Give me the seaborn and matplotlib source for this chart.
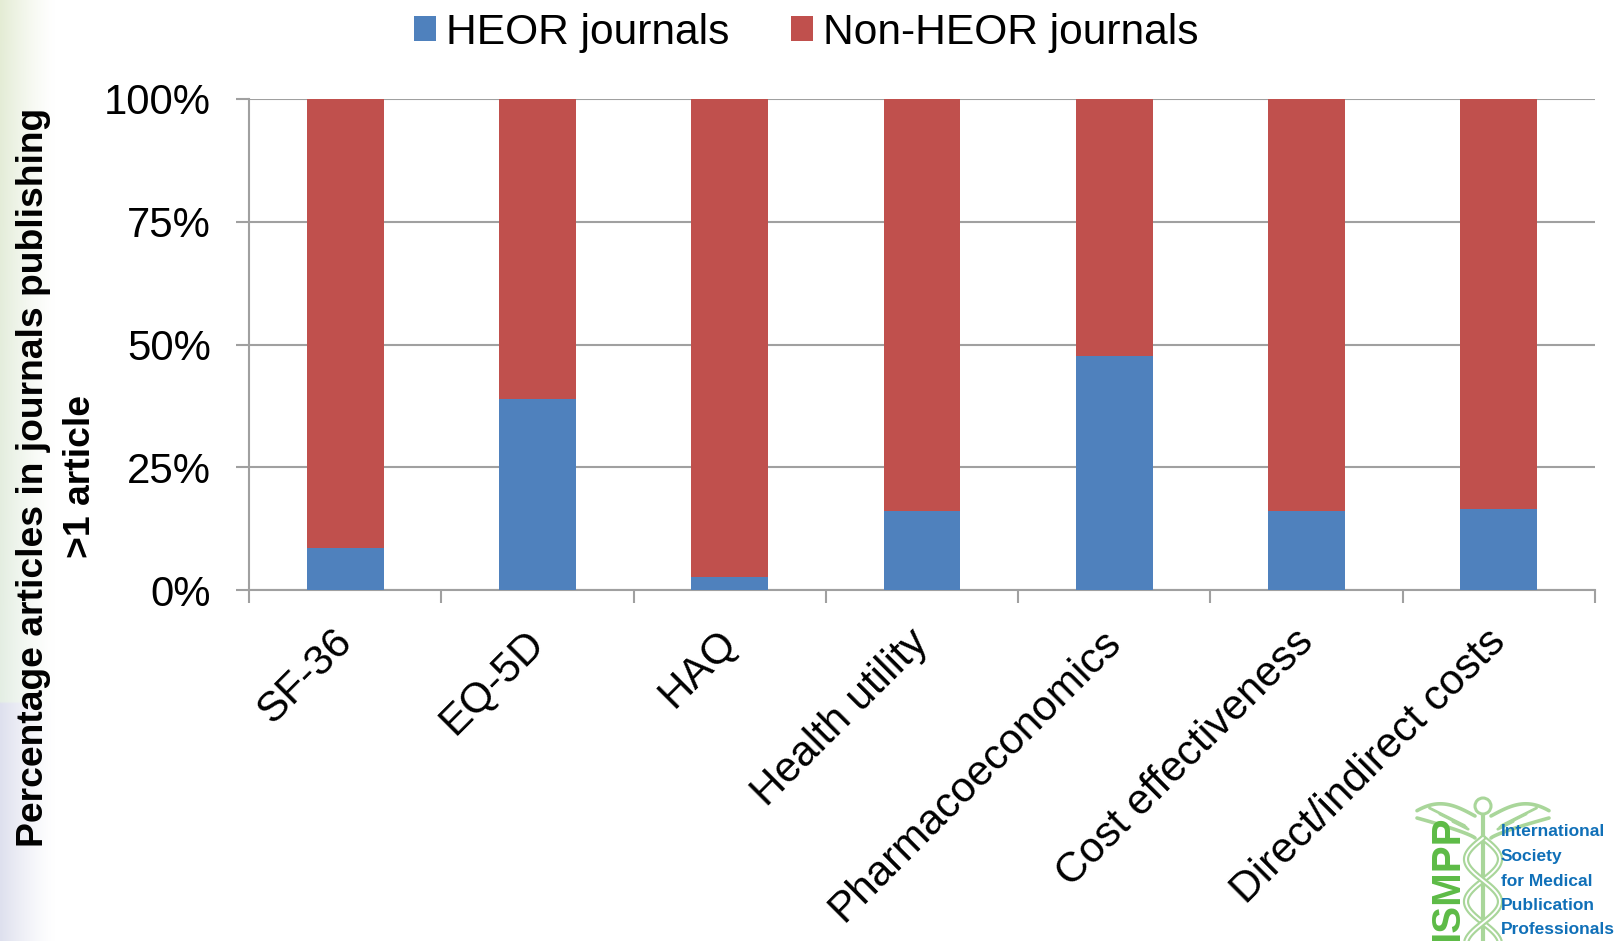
import numpy as np
import pandas as pd
import matplotlib
matplotlib.use('Agg')
import matplotlib.pyplot as plt
import seaborn as sns
from matplotlib.patches import Circle
from matplotlib.ticker import FixedLocator
from matplotlib.transforms import ScaledTranslation

categories = ['SF-36', 'EQ-5D', 'HAQ', 'Health utility', 'Pharmacoeconomics',
              'Cost effectiveness', 'Direct/indirect costs']
heor = [8.5, 39.0, 2.7, 16.0, 47.7, 16.0, 16.5]
non_heor = [91.5, 61.0, 97.3, 84.0, 52.3, 84.0, 83.5]
y_ticks = [0, 25, 50, 75, 100]
y_tick_labels = ['0%', '25%', '50%', '75%', '100%']
logo_lines = ['International', 'Society', 'for Medical', 'Publication', 'Professionals']

W, H = 1614, 941
BLUE = '#4F81BD'
RED = '#C0504D'
GREY = '#A0A0A0'

sns.set_style('white')
plt.rcParams['font.family'] = ['Liberation Sans', 'DejaVu Sans']

df = pd.DataFrame({'category': categories, 'heor': heor, 'non_heor': non_heor})

fig = plt.figure(figsize=(W / 100, H / 100), dpi=100, facecolor='white')

# slide background, soft strip down the left edge
bg = fig.add_axes([0, 0, 1, 1], zorder=0)
rows = np.linspace(0, 1, 300)[:, None]
cols = np.linspace(0, 1, 70)[None, :]
fade = np.clip(1 - cols, 0, 1) ** 1.3
top = np.array([228, 236, 212]) / 255
mid = np.array([228, 238, 228]) / 255
low = np.array([222, 224, 238]) / 255
split = 703 / H
base = np.where(rows < split, 1, 0)[:, :, None] * (top + (mid - top) * (rows / split)[:, :, None]) \
    + np.where(rows < split, 0, 1)[:, :, None] * low
strip = 1 - (1 - base) * fade[:, :, None]
bg.imshow(strip, extent=[0, 55, H, 0], aspect='auto')
bg.set_xlim(0, W)
bg.set_ylim(H, 0)
bg.axis('off')

# main chart
ax = fig.add_axes([249 / W, 1 - 590 / H, (1595 - 249) / W, (590 - 99) / H], zorder=2)
ax.patch.set_alpha(0)
sns.barplot(data=df, x='category', y='heor', color=BLUE, saturation=1, width=0.4,
            ax=ax, label='HEOR journals', zorder=3, linewidth=0)
sns.barplot(data=df, x='category', y='non_heor', bottom=df['heor'], color=RED, saturation=1,
            width=0.4, ax=ax, label='Non-HEOR journals', zorder=3, linewidth=0)
handles, labels = ax.get_legend_handles_labels()
ax.get_legend().remove()

ax.set_xlim(-0.5, 6.5)
ax.set_ylim(0, 100)
ax.set_yticks(y_ticks)
ax.set_yticklabels(y_tick_labels, fontsize=30.2, color='black')
ax.yaxis.grid(True, color=GREY, linewidth=1.5, zorder=1)
ax.set_axisbelow(True)
ax.xaxis.grid(False)
ax.tick_params(axis='y', left=True, length=9.5, width=1.5, color=GREY, pad=18)
ax.set_xlabel('')
ax.set_ylabel('')

ax.set_xticks(range(len(categories)))
ax.set_xticklabels(categories, fontsize=30.5, rotation=45, ha='right', va='top',
                   rotation_mode='anchor', color='black')
ax.tick_params(axis='x', which='major', bottom=False, length=0, pad=23)
ax.xaxis.set_minor_locator(FixedLocator(np.arange(-0.5, 7, 1)))
ax.tick_params(axis='x', which='minor', bottom=True, length=9.5, width=1.5, color=GREY)
shift = ScaledTranslation(-13.5 / 100, 0, fig.dpi_scale_trans)
for lab in ax.get_xticklabels():
    lab.set_transform(lab.get_transform() + shift)

sns.despine(ax=ax, top=True, right=True)
ax.spines['left'].set_color(GREY)
ax.spines['left'].set_linewidth(1.5)
ax.spines['bottom'].set_color(GREY)
ax.spines['bottom'].set_linewidth(1.5)

fig.text(34 / W, 1 - 477 / H, 'Percentage articles in journals publishing', rotation=90,
         ha='center', va='center', fontsize=26.8, fontweight='bold', color='black')
fig.text(80 / W, 1 - 477 / H, '>1 article', rotation=90,
         ha='center', va='center', fontsize=26.8, fontweight='bold', color='black')

fig.legend(handles, labels, loc='center', bbox_to_anchor=(806 / W, 1 - 33 / H), ncol=2,
           fontsize=30.6, frameon=False, handlelength=0.53, handleheight=0.53,
           handletextpad=0.22, columnspacing=1.45, borderpad=0, labelcolor='black')

# ISMPP logo in the corner, drawn in pixel coordinates
logo = fig.add_axes([0, 0, 1, 1], zorder=3)
logo.set_xlim(0, W)
logo.set_ylim(H, 0)
logo.axis('off')
LG = '#A9D69A'
cx = 1483
t = np.linspace(0, 1, 40)
for side in (-1, 1):
    # wing outline and feathers
    xs = cx + side * (8 + 58 * t)
    logo.plot(xs, 816 - 16 * np.sin(t * np.pi * 0.75) + 6 * t, color=LG, lw=2.6)
    logo.plot(xs, 838 - 20 * t ** 0.8, color=LG, lw=2.6)
    for frac in (0.35, 0.6, 0.8):
        logo.plot(cx + side * (12 + 44 * frac * t + 8 * frac),
                  832 - 8 * frac - 22 * t * frac, color=LG, lw=2)
logo.add_patch(Circle((cx, 806), 8, fill=False, edgecolor=LG, lw=2.2))
logo.plot([cx, cx], [815, 941], color=LG, lw=3)
yy = np.linspace(838, 941, 200)
for sign in (1, -1):
    logo.plot(cx + sign * 17 * np.sin((yy - 838) / 13.5), yy, color=LG, lw=4.5)
    logo.plot(cx + sign * 17 * np.sin((yy - 838) / 13.5), yy, color='white', lw=1.4)
logo.text(1447, 941, 'ISMPP', rotation=90, ha='center', va='bottom', fontsize=29,
          fontweight='bold', color='#5DBB46')
for text, y in zip(logo_lines, [832, 857, 882, 906, 930]):
    logo.text(1501, y, text, ha='left', va='center', fontsize=12.5, fontweight='bold',
              color='#1070B8')

fig.savefig('out.png', dpi=100)
